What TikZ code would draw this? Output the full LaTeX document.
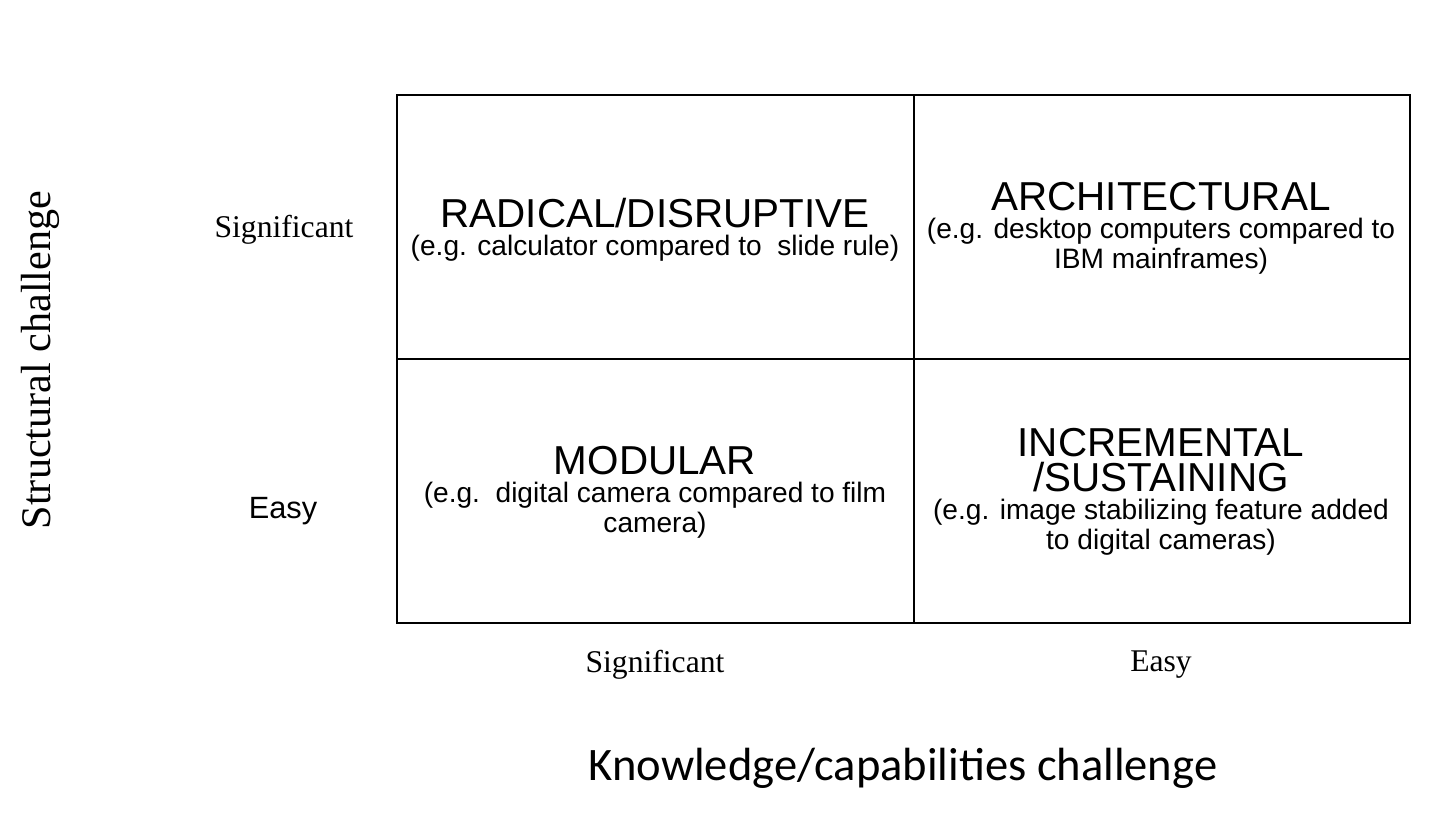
\documentclass[tikz,border=0pt]{standalone}
\usepackage{fontspec}
\setmainfont{Liberation Serif}
\newfontfamily\cellfont{Liberation Sans}
\newfontfamily\axisfont{Carlito}
\usetikzlibrary{positioning}

\newcommand{\headtxt}{\fontsize{23}{26}\selectfont}
\newcommand{\subtxt}{\fontsize{16}{19}\selectfont}

\begin{document}
\begin{tikzpicture}[x=0.02cm, y=-0.02cm,
    cell/.style={font=\cellfont, align=center},
    level/.style={font=\fontsize{18}{21}\selectfont}]

    \useasboundingbox (0,0) rectangle (1440,829);

    % the 2x2 matrix
    \draw[line width=0.9pt] (397,95) rectangle (1410,623);
    \draw[line width=0.9pt] (914,95) -- (914,623);
    \draw[line width=0.9pt] (397,359) -- (1410,359);

    \node[cell] (radical) at (655,230)
        {\headtxt RADICAL/DISRUPTIVE\\[4pt]
         \subtxt (e.g. calculator compared to\ \ slide rule)};
    \node[cell] (archi) at (1161,228)
        {\headtxt ARCHITECTURAL\\[4pt]
         \subtxt (e.g. desktop computers compared to\\[1pt]
         \subtxt IBM mainframes)};
    \node[cell] (modular) at (655,492)
        {\headtxt MODULAR\\[4pt]
         \subtxt (e.g.\ \ digital camera compared to film\\[1pt]
         \subtxt camera)};
    \node[cell] (incr) at (1161,492)
        {\headtxt INCREMENTAL\\[2pt]
         \headtxt /SUSTAINING\\[4pt]
         \subtxt (e.g. image stabilizing feature added\\[1pt]
         \subtxt to digital cameras)};

    % row and column levels
    \node[level] (rowsig) at (284,230) {Significant};
    \node[font=\cellfont\fontsize{17.5}{20}\selectfont] (roweasy) at (283,511) {Easy};
    \node[level] (colsig) at (655,665) {Significant};
    \node[level] (coleasy) at (1161,665) {Easy};

    % axis titles
    \node[font=\fontsize{24}{27}\selectfont, rotate=90] (structural) at (40,360) {Structural challenge};
    \node[font=\axisfont\fontsize{26.5}{30}\selectfont] (knowledge) at (903,768) {Knowledge/capabilities challenge};

\end{tikzpicture}
\end{document}
